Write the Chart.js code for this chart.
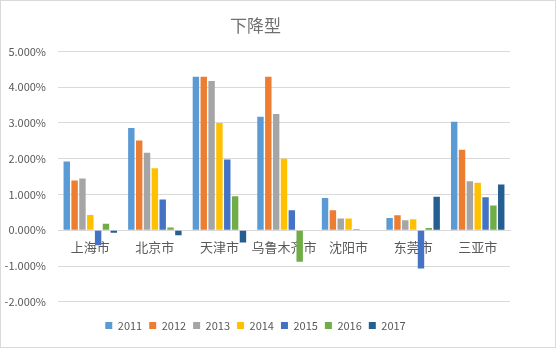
<!DOCTYPE html>
<html>
<head>
<meta charset="utf-8">
<script src="https://cdn.jsdelivr.net/npm/chart.js@4/dist/chart.umd.min.js"></script>
<style>
html,body{margin:0;padding:0;background:#fff;}
#box{width:554px;height:346px;border:1px solid #d9d9d9;position:relative;}
</style>
</head>
<body>
<div id="box"><canvas id="grafico" width="554" height="346"></canvas></div>
<script>

/* dados */

const cidades=["上海市","北京市","天津市","乌鲁木齐市","沈阳市","东莞市","三亚市"];
const anos=["2011","2012","2013","2014","2015","2016","2017"];
const cores=["#5B9BD5","#ED7D31","#A5A5A5","#FFC000","#4472C4","#70AD47","#255E91"];

const v2011=[1.92,2.86,4.29,3.17,0.90,0.34,3.03];
const v2012=[1.39,2.51,4.29,4.29,0.56,0.42,2.25];
const v2013=[1.45,2.17,4.17,3.25,0.33,0.28,1.37];
const v2014=[0.43,1.73,3.00,2.00,0.33,0.31,1.33];
const v2015=[-0.42,0.86,1.98,0.56,0.03,-1.07,0.92];
const v2016=[0.18,0.08,0.95,-0.88,0.00,0.06,0.69];
const v2017=[-0.07,-0.14,-0.34,0.00,0.00,0.94,1.28];

const series=[v2011,v2012,v2013,v2014,v2015,v2016,v2017];

const yTicks=[-2,-1,0,1,2,3,4,5];

const cinza="#595959";
const fonte="'Noto Sans CJK SC','Liberation Sans',sans-serif";

/* grafico */

new Chart(document.getElementById("grafico"),{
type:"bar",
data:{
labels:cidades,
datasets:series.map((d,i)=>({
label:anos[i],
data:d,
backgroundColor:cores[i],
categoryPercentage:0.85,
barPercentage:0.82
}))
},
options:{
responsive:false,
animation:false,
layout:{padding:{left:0,right:45,top:0,bottom:6}},
plugins:{
title:{
display:true,
text:"下降型",
color:"#707070",
font:{family:fonte,size:17,weight:"normal"},
padding:{top:14,bottom:16}
},
legend:{
position:"bottom",
/* titulo vazio so para afastar a legenda do eixo */
title:{display:true,text:" ",font:{size:1},padding:{top:10,bottom:0}},
labels:{
color:cinza,
boxWidth:7,
boxHeight:7,
padding:7,
font:{family:fonte,size:11}
}
},
tooltip:{enabled:false}
},
scales:{
x:{
position:{y:0},
grid:{display:false,drawTicks:false},
border:{display:true,color:"#d9d9d9"},
ticks:{
color:cinza,
padding:9,
maxRotation:0,
minRotation:0,
autoSkip:false,
font:{family:fonte,size:13}
}
},
y:{
min:yTicks[0],
max:yTicks[yTicks.length-1],
afterBuildTicks:(s)=>{s.ticks=yTicks.map(v=>({value:v}));},
afterFit:(s)=>{s.width=57;},
grid:{color:"#d9d9d9",drawTicks:false},
border:{display:false},
ticks:{
color:cinza,
padding:12,
font:{family:fonte,size:11},
callback:(v)=>v.toFixed(3)+"%"
}
}
}
}
});

</script>
</body>
</html>
